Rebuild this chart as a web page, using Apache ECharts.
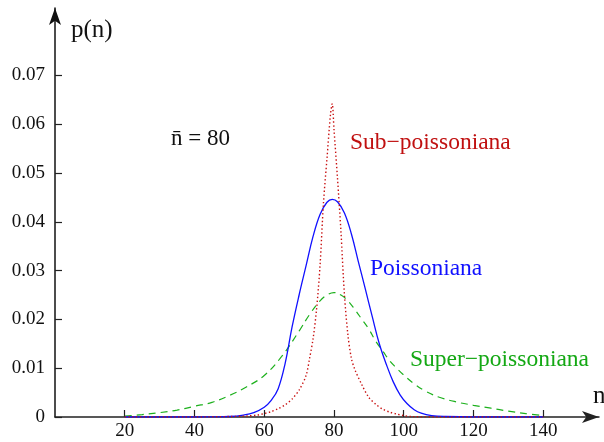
<!DOCTYPE html>
<html><head><meta charset="utf-8">
<script src="https://cdn.jsdelivr.net/npm/echarts@6/dist/echarts.min.js"></script>
<style>html,body{margin:0;padding:0;background:#fff}#c{width:604px;height:442px}</style>
</head><body><div id="c"></div>
<script>
const xTicks = [20, 40, 60, 80, 100, 120, 140];
const yTicks = [0, 0.01, 0.02, 0.03, 0.04, 0.05, 0.06, 0.07];

const poissonN = [20, 40, 45, 50, 54, 57, 60, 62, 64, 66, 68, 70, 72, 74, 76, 78, 79.5, 81, 83, 85, 87, 89, 91, 93, 95, 97, 99, 101, 103, 105, 108, 112, 120, 140];
const poissonP = [0, 0, 0.00002, 0.0001, 0.0004, 0.0009, 0.0020, 0.0034, 0.0058, 0.0110, 0.0185, 0.0250, 0.0310, 0.0370, 0.0415, 0.0440, 0.0446, 0.0441, 0.0418, 0.0375, 0.0318, 0.0262, 0.0205, 0.0150, 0.0108, 0.0072, 0.0045, 0.0027, 0.0015, 0.0008, 0.0003, 0.0001, 0, 0];

const subN = [20, 40, 50, 55, 58, 60, 62, 64, 66, 68, 70, 72, 73, 74, 75, 76, 77, 78, 79, 79.5, 80, 81, 82, 83, 84, 85, 86, 88, 90, 92, 94, 96, 98, 100, 102, 110, 140];
const subP = [0, 0, 0.0001, 0.0002, 0.0004, 0.0007, 0.0011, 0.0017, 0.0025, 0.0037, 0.0055, 0.0085, 0.0120, 0.0160, 0.0220, 0.0310, 0.0440, 0.0530, 0.0620, 0.0642, 0.0590, 0.0490, 0.0380, 0.0250, 0.0168, 0.0120, 0.0097, 0.0066, 0.0040, 0.0026, 0.0016, 0.0010, 0.0006, 0.0003, 0.0001, 0, 0];

const superN = [20, 25, 30, 35, 40, 45, 50, 55, 60, 65, 70, 73, 76, 78, 80, 82, 84, 86, 88, 90, 92, 94, 96, 98, 100, 103, 106, 110, 115, 120, 125, 130, 135, 140];
const superP = [0.0002, 0.0005, 0.0009, 0.0014, 0.0022, 0.0030, 0.0044, 0.0062, 0.0085, 0.0124, 0.0176, 0.0210, 0.0238, 0.0250, 0.0255, 0.0250, 0.0238, 0.0220, 0.0200, 0.0180, 0.0155, 0.0135, 0.0115, 0.0100, 0.0086, 0.0068, 0.0054, 0.0041, 0.0031, 0.0024, 0.0018, 0.0012, 0.0007, 0.0003];

const pair = (xs, ys) => xs.map((x, i) => [x, ys[i]]);
const FONT = '"Liberation Serif", "Times New Roman", serif';

const chart = echarts.init(document.getElementById('c'), null, {renderer: 'canvas'});
chart.setOption({
  animation: false,
  backgroundColor: '#fff',
  grid: {left: 55, right: 5, top: 8, bottom: 25, containLabel: false},
  xAxis: {
    type: 'value', min: 0, max: 156, interval: 20,
    splitLine: {show: false},
    axisLine: {lineStyle: {color: '#222', width: 1.5}, symbol: ['none', 'arrow'], symbolSize: [9, 17]},
    axisTick: {inside: true, length: 7, customValues: xTicks, lineStyle: {color: '#222', width: 1.2}},
    axisLabel: {customValues: xTicks, color: '#111', fontFamily: FONT, fontSize: 19, margin: 5}
  },
  yAxis: {
    type: 'value', min: 0, max: 0.0838, interval: 0.01,
    splitLine: {show: false},
    axisLine: {lineStyle: {color: '#111', width: 1.5}, symbol: ['none', 'arrow'], symbolSize: [9, 17]},
    axisTick: {inside: true, length: 7, customValues: yTicks, lineStyle: {color: '#222', width: 1.2}},
    axisLabel: {customValues: yTicks, color: '#111', fontFamily: FONT, fontSize: 19, margin: 10,
      formatter: v => v === 0 ? '0' : v.toFixed(2)}
  },
  series: [
    {type: 'line', data: pair(superN, superP), symbol: 'none', smooth: 0.4, z: 2,
      lineStyle: {color: '#1cb01c', width: 1.2, type: [7, 5]}},
    {type: 'line', data: pair(poissonN, poissonP), symbol: 'none', smooth: 0.4, z: 3,
      lineStyle: {color: '#1010ff', width: 1.3, type: 'solid'}},
    {type: 'line', data: pair(subN, subP), symbol: 'none', smooth: 0.3, z: 4,
      lineStyle: {color: '#c81010', width: 1.4, type: [1.4, 2.4]}}
  ],
  graphic: [
    {type: 'text', left: 71, top: 18, style: {text: 'p(n)', font: '25px ' + FONT, fill: '#111'}},
    {type: 'text', left: 593, top: 384, style: {text: 'n', font: '25px ' + FONT, fill: '#111'}},
    {type: 'text', left: 171, top: 127, style: {text: 'n\u0304 = 80', font: '23px ' + FONT, fill: '#111'}},
    {type: 'text', left: 350, top: 131, style: {text: 'Sub\u2212poissoniana', font: '23.5px ' + FONT, fill: '#c01010'}},
    {type: 'text', left: 370, top: 257, style: {text: 'Poissoniana', font: '23.5px ' + FONT, fill: '#1010ff'}},
    {type: 'text', left: 410, top: 348, style: {text: 'Super\u2212poissoniana', font: '23.5px ' + FONT, fill: '#14a814'}}
  ]
});
</script>
</body></html>
